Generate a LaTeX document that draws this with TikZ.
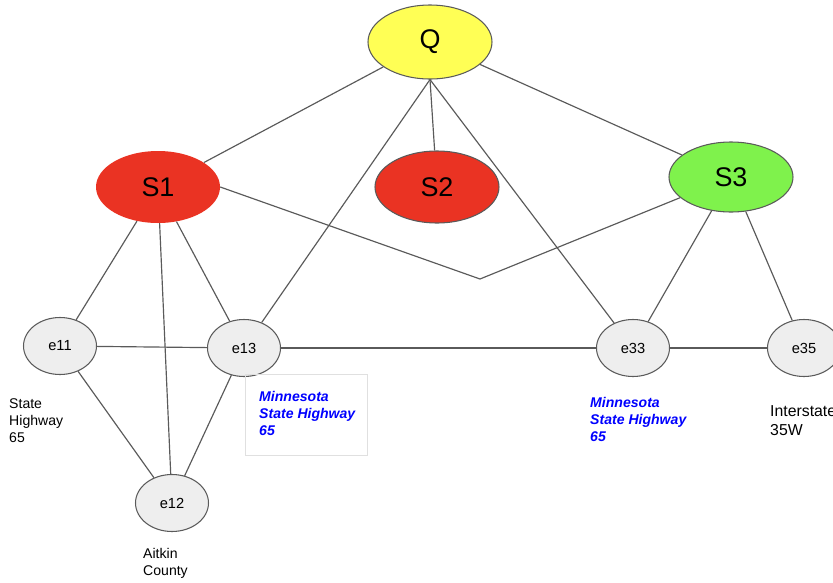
\documentclass[tikz,border=0pt]{standalone}
\usepackage{fontspec}
\setmainfont{Liberation Sans}
\usetikzlibrary{shapes.geometric}
\definecolor{edgegray}{HTML}{5A5A5A}
\definecolor{qyellow}{HTML}{FFFF55}
\definecolor{sred}{HTML}{EA3323}
\definecolor{sgreen}{HTML}{7FF24C}
\definecolor{efill}{HTML}{EEEEEE}
\tikzstyle{big} = [ellipse, inner sep=0pt, minimum width=124*0.03cm, minimum height=72*0.03cm, font=\fontsize{23}{26}\selectfont]
\tikzstyle{small} = [ellipse, draw=edgegray, line width=0.9pt, fill=efill, inner sep=0pt, minimum width=73*0.03cm, minimum height=57*0.03cm, font=\fontsize{12.5}{14}\selectfont]

\begin{document}
\begin{tikzpicture}[x=0.03cm, y=-0.03cm,
		line/.style={draw=edgegray, line width=1pt},
		note/.style={anchor=north west, align=left, inner sep=0pt, font=\fontsize{12}{14.5}\selectfont},
		bluenote/.style={note, text=blue, font=\fontsize{12}{14.5}\selectfont\bfseries\itshape}]
		\useasboundingbox (0,0) rectangle (833,582);
		% main nodes
		\node (q) [big, draw=edgegray, line width=0.9pt, fill=qyellow, minimum height=74*0.03cm] at (430,42) {Q};
		\node (s1) [big, fill=sred] at (158,187) {S1};
		\node (s2) [big, draw=edgegray, line width=0.9pt, fill=sred] at (437,187) {S2};
		\node (s3) [big, draw=edgegray, line width=0.9pt, fill=sgreen, minimum height=70*0.03cm] at (731,177) {S3};
		% road nodes
		\node (e11) [small] at (60,346) {e11};
		\node (e13) [small] at (244,348) {e13};
		\node (e12) [small] at (172,503) {e12};
		\node (e33) [small] at (633,348) {e33};
		\node (e35) [small] at (804,348) {e35};
		\coordinate (v) at (480,279);
		% connectors
		\draw [line] (q) -- (s1);
		\draw [line] (q.south) -- (s2);
		\draw [line] (q) -- (s3);
		\draw [line] (q.south) -- (e13);
		\draw [line] (q.south) -- (e33);
		\draw [line] (s1.east) -- (v) -- (s3);
		\draw [line] (s1) -- (e11);
		\draw [line] (s1) -- (e12);
		\draw [line] (s1) -- (e13);
		\draw [line] (s3) -- (e33);
		\draw [line] (s3) -- (e35);
		\draw [line] (e11) -- (e13);
		\draw [line] (e11) -- (e12);
		\draw [line] (e13) -- (e12);
		\draw [line] (e13) -- (e33);
		\draw [line] (e33) -- (e35);
		% labels
		\node (box) [draw=black!12, line width=0.6pt, anchor=north west, minimum width=122*0.03cm, minimum height=81*0.03cm, inner sep=0pt] at (245,374) {};
		\node (l13) [bluenote] at (259,391) {Minnesota\\State Highway\\65};
		\node (l33) [bluenote] at (590,397) {Minnesota\\State Highway\\65};
		\node (l11) [note] at (9,398) {State\\Highway\\65};
		\node (l12) [note] at (143,548) {Aitkin\\County};
		\node (l35) [note, font=\fontsize{13.5}{16.5}\selectfont] at (770,405) {Interstate\\35W};
	\end{tikzpicture}
\end{document}
